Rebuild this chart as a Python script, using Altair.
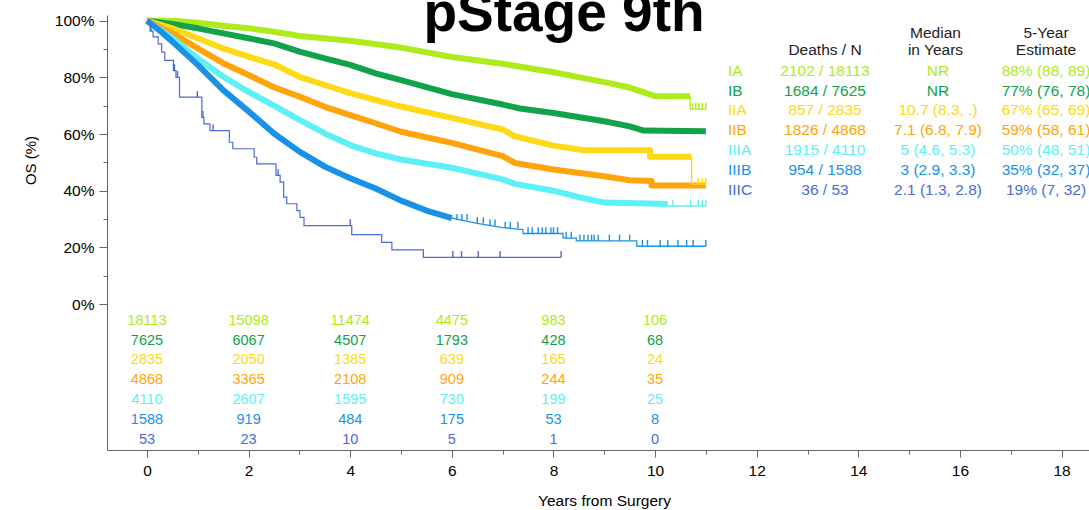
import altair as alt
import pandas as pd

FONT = "Liberation Sans"

title_text = "pStage 9th"
stages = ["IA", "IB", "IIA", "IIB", "IIIA", "IIIB", "IIIC"]
colors = ["#aeea1c", "#12a24b", "#fed916", "#ffa40b", "#5df0f6", "#1991e8", "#4a6bd5"]

deaths_n = ["2102 / 18113", "1684 / 7625", "857 / 2835", "1826 / 4868",
            "1915 / 4110", "954 / 1588", "36 / 53"]
median_yrs = ["NR", "NR", "10.7 (8.3, .)", "7.1 (6.8, 7.9)", "5 (4.6, 5.3)",
              "3 (2.9, 3.3)", "2.1 (1.3, 2.8)"]
five_year = ["88% (88, 89)", "77% (76, 78)", "67% (65, 69)", "59% (58, 61)",
             "50% (48, 51)", "35% (32, 37)", "19% (7, 32)"]
header_line1 = ["", "Median", "5-Year"]
header_line2 = ["Deaths / N", "in Years", "Estimate"]

risk_times = [0, 2, 4, 6, 8, 10]
at_risk = {
    "IA": [18113, 15098, 11474, 4475, 983, 106],
    "IB": [7625, 6067, 4507, 1793, 428, 68],
    "IIA": [2835, 2050, 1385, 639, 165, 24],
    "IIB": [4868, 3365, 2108, 909, 244, 35],
    "IIIA": [4110, 2607, 1595, 730, 199, 25],
    "IIIB": [1588, 919, 484, 175, 53, 8],
    "IIIC": [53, 23, 10, 5, 1, 0],
}

# survival (%): dense part of each curve
main_t = {
    "IA": [0, 0.5, 1, 1.5, 2, 2.5, 3, 4, 5, 6, 7, 8, 9, 9.5, 10, 10.69],
    "IB": [0, 0.5, 1, 1.5, 2, 2.5, 3, 3.5, 4, 4.5, 5, 6, 7, 7.34, 8, 9, 9.5, 9.78, 11.0],
    "IIA": [0, 0.5, 1, 1.5, 2, 2.5, 3, 3.5, 4, 4.5, 5, 6, 7, 7.24, 8, 8.6, 9.9, 9.9, 10.72],
    "IIB": [0, 0.5, 1, 1.5, 2, 2.5, 3, 3.5, 4, 4.5, 5, 6, 7, 7.24, 8, 9, 9.5, 9.93, 9.93, 11.0],
    "IIIA": [0, 0.5, 1, 1.5, 2, 2.5, 3, 3.5, 4, 4.5, 5, 6, 7, 7.24, 8, 8.5, 9, 10.25],
    "IIIB": [0, 0.25, 0.5, 1, 1.5, 2, 2.5, 3, 3.5, 4, 4.5, 5, 5.5, 6.0],
}
main_v = {
    "IA": [100, 100, 99.3, 98.2, 97.3, 96.1, 94.6, 92.9, 90.5, 87.2, 84.8, 81.8, 78.3, 76.4, 73.4, 73.3],
    "IB": [100, 98.8, 97.3, 95.5, 93.8, 92, 89.1, 86.7, 84.4, 81.4, 79, 74.1, 70.4, 69, 67.4, 64.5, 62.7, 61.2, 61.0],
    "IIA": [100, 97.3, 93.8, 90.2, 87.3, 84.6, 80.2, 77.3, 74.4, 72, 69.7, 65.7, 61.6, 59.2, 55.9, 54.3, 54.3, 52, 52],
    "IIB": [100, 95.5, 90.2, 85, 80.8, 76.5, 73.2, 69.6, 66.7, 63.8, 60.8, 56.9, 52.2, 49.8, 47.5, 45.1, 43.7, 43.4, 41.8, 41.8],
    "IIIA": [100, 93.8, 86.7, 80.2, 74.9, 70, 65, 60.2, 56.1, 53.2, 51, 48.1, 44, 42.4, 40, 37.7, 35.8, 35.3],
    "IIIB": [100, 96.5, 92.6, 84.4, 75.5, 68, 60.2, 53.8, 48.5, 44.4, 40.8, 36.5, 33, 30.3],
}
# sparse tails
tail_t = {
    "IA": [10.69, 10.69, 11.0],
    "IIA": [10.72, 10.72, 11.0],
    "IIIA": [10.25, 11.0],
    "IIIB": [6.0, 6.5, 7.0, 7.4, 7.4, 8.19, 8.19, 8.45, 8.45, 9.64, 9.64, 11.0],
}
tail_v = {
    "IA": [73.3, 68.8, 68.8],
    "IIA": [52, 42.3, 42.3],
    "IIIA": [34.6, 34.6],
    "IIIB": [30.3, 28.5, 27.0, 26.3, 24.9, 24.9, 23.3, 23.3, 22.3, 22.3, 20.4, 20.4],
}
# IIIC step curve (value holds from t until next t)
iiic_t = [0, 0.06, 0.12, 0.22, 0.29, 0.35, 0.52, 0.57, 0.64, 1.08, 1.12, 1.24, 1.62,
          1.69, 2.11, 2.16, 2.54, 2.62, 2.69, 2.75, 2.95, 3.01, 3.09, 4.03, 4.62,
          4.82, 5.44, 8.15]
iiic_v = [100, 96.3, 94.3, 91.8, 88.9, 86, 82.4, 80, 73, 65.9, 63.6, 61.2, 57.1,
          54.8, 51.8, 49.5, 45.4, 43, 37.7, 35.4, 33, 30.6, 27.7, 24.5, 21.8,
          19.1, 16.5, 16.5]
# censoring marks: (level, times)
censor = {
    "IA": [(68.8, [10.74, 10.8, 10.86, 10.93, 11.0])],
    "IIA": [(42.3, [10.85, 10.93, 11.0])],
    "IIIA": [(34.6, [10.35, 10.7, 10.85, 10.93, 11.0])],
    "IIIB": [(29.6, [6.1, 6.2, 6.3]), (28.4, [6.5, 6.62]), (27.6, [6.75, 6.85]),
             (26.8, [7.05, 7.15, 7.3]),
             (24.9, [7.5, 7.58, 7.7, 7.78, 7.85, 7.95, 8.0, 8.08]),
             (23.3, [8.25, 8.35]),
             (22.3, [8.52, 8.6, 8.68, 8.75, 8.8, 8.88, 9.1, 9.3, 9.5]),
             (20.4, [9.75, 9.85, 10.1, 10.25, 10.45, 10.62, 10.75, 11.0])],
    "IIIC": [(96.3, [0.08]), (82.4, [0.54]), (80, [0.6]), (73, [0.99]),
             (65.9, [1.1]), (61.2, [1.3]), (45.4, [2.58]), (27.7, [4.0]),
             (16.5, [6.02, 6.19, 6.52, 6.95, 8.15])],
}
TICK_LEN = 2.2

# ---------- tables ----------
main_df = pd.DataFrame([{"stage": s, "t": t, "v": v, "i": i}
                        for s in main_t for i, (t, v) in enumerate(zip(main_t[s], main_v[s]))])
tail_df = pd.DataFrame([{"stage": s, "t": t, "v": v, "i": i}
                        for s in tail_t for i, (t, v) in enumerate(zip(tail_t[s], tail_v[s]))])
iiic_df = pd.DataFrame({"stage": "IIIC", "t": iiic_t, "v": iiic_v, "i": range(len(iiic_t))})
cens_df = pd.DataFrame([{"stage": s, "t": t, "v": lv, "v2": lv + TICK_LEN}
                        for s in censor for lv, ts in censor[s] for t in ts])
risk_df = pd.DataFrame([{"stage": s, "t": t, "n": str(n)}
                        for s in stages for t, n in zip(risk_times, at_risk[s])])
table_df = pd.DataFrame({"stage": stages, "deaths": deaths_n,
                         "median": median_yrs, "est": five_year})

# ---------- encodings ----------
x_scale = alt.Scale(domain=[-0.787, 18.54], nice=False, zero=False)
x_enc = alt.X("t:Q", scale=x_scale,
              axis=alt.Axis(values=list(range(0, 19)),
                            labelExpr="datum.value % 2 == 0 ? datum.label : ''",
                            labelOverlap=False,
                            tickSize={"condition": {"test": "datum.value % 2 != 0", "value": 4}, "value": 7},
                            grid=False, domainColor="#666", tickColor="#666",
                            labelColor="black", labelFontSize=15.5, labelPadding=6,
                            title="Years from Surgery", titleFontSize=15.5,
                            titleFontWeight="normal", titleColor="black",
                            titleX=497, titleY=50, titleBaseline="middle"))
y_enc = alt.Y("v:Q",
              scale=alt.Scale(domain=[-51.5, 102], nice=False, zero=False),
              axis=alt.Axis(values=list(range(0, 101, 10)),
                            labelExpr="datum.value % 20 == 0 ? datum.value + '%' : ''",
                            labelOverlap=False,
                            tickSize={"condition": {"test": "datum.value % 20 != 0", "value": 4}, "value": 8},
                            grid=False, domainColor="#666", tickColor="#666",
                            labelColor="black", labelFontSize=15.5, labelPadding=5,
                            title="OS (%)", titleFontSize=15, titleFontWeight="normal",
                            titleColor="black", titleX=-77, titleY=145,
                            titleBaseline="middle", titleAngle=-90))
color_enc = alt.Color("stage:N", scale=alt.Scale(domain=stages, range=colors), legend=None)

main = alt.Chart(main_df).mark_line(strokeWidth=6, strokeJoin="round").encode(
    x=x_enc, y=y_enc, color=color_enc, detail="stage:N", order="i:Q")
tail = alt.Chart(tail_df).mark_line(strokeWidth=1.3).encode(
    x=x_enc, y=y_enc, color=color_enc, detail="stage:N", order="i:Q")
iiic = alt.Chart(iiic_df).mark_line(strokeWidth=1.2, interpolate="step-after").encode(
    x=x_enc, y=y_enc, color=color_enc, order="i:Q")
cens = alt.Chart(cens_df).mark_rule(strokeWidth=1.4).encode(
    x=x_enc, y=y_enc, y2="v2:Q", color=color_enc)
curves = alt.layer(main, tail, iiic, cens)

# at-risk numbers: same time scale as the curves (no extra axis)
risk = alt.Chart(risk_df).mark_text(fontSize=14.5, font=FONT, baseline="middle", align="center").encode(
    x=alt.X("t:Q", scale=x_scale, axis=None),
    y=alt.Y("stage:N", scale=alt.Scale(type="point", domain=stages, range=[305.7, 425], padding=0), axis=None),
    text="n:N", color=color_enc)

table_y = alt.Y("stage:N", scale=alt.Scale(type="point", domain=stages, range=[55.7, 175], padding=0), axis=None)
tbl = alt.Chart(table_df)
col_stage = tbl.mark_text(align="left", baseline="middle", fontSize=15.5, font=FONT).encode(
    x=alt.value(621), y=table_y, text="stage:N", color=color_enc)
col_deaths = tbl.mark_text(align="center", baseline="middle", fontSize=15.5, font=FONT).encode(
    x=alt.value(718), y=table_y, text="deaths:N", color=color_enc)
col_median = tbl.mark_text(align="center", baseline="middle", fontSize=15.5, font=FONT).encode(
    x=alt.value(831), y=table_y, text="median:N", color=color_enc)
col_est = tbl.mark_text(align="center", baseline="middle", fontSize=15.5, font=FONT).encode(
    x=alt.value(939), y=table_y, text="est:N", color=color_enc)
table = alt.layer(col_stage, col_deaths, col_median, col_est)

# header lines of the table, one text per column
hdr_df = pd.DataFrame({"col": [0, 1, 2], "l1": header_line1, "l2": header_line2})
hdr_x = alt.X("col:O", scale=alt.Scale(type="point", domain=[0, 1, 2], range=[718, 939], padding=0), axis=None)
hdr_style = dict(align="center", baseline="middle", fontSize=15.5, font=FONT, color="#222")
hdr1 = alt.Chart(hdr_df).mark_text(**hdr_style).encode(x=hdr_x, y=alt.value(18), text="l1:N")
hdr2 = alt.Chart(hdr_df).mark_text(**hdr_style).encode(x=hdr_x, y=alt.value(35), text="l2:N")
headers = alt.layer(hdr1, hdr2)

title = alt.Chart(pd.DataFrame({"title": [title_text]})).mark_text(
    fontSize=55, fontWeight="bold", font=FONT, color="black",
    align="center", baseline="alphabetic").encode(
    x=alt.value(457), y=alt.value(16), text="title:N")

chart = alt.layer(curves, risk, table, headers, title).resolve_scale(
    y="independent", x="independent"
).properties(
    width=982, height=435,
    autosize=alt.AutoSizeParams(type="none"),
    padding={"left": 107, "top": 15, "right": 0, "bottom": 60},
).configure(font=FONT).configure_view(stroke=None)

chart.save("out.html", embed_options={"renderer": "svg", "actions": False})
